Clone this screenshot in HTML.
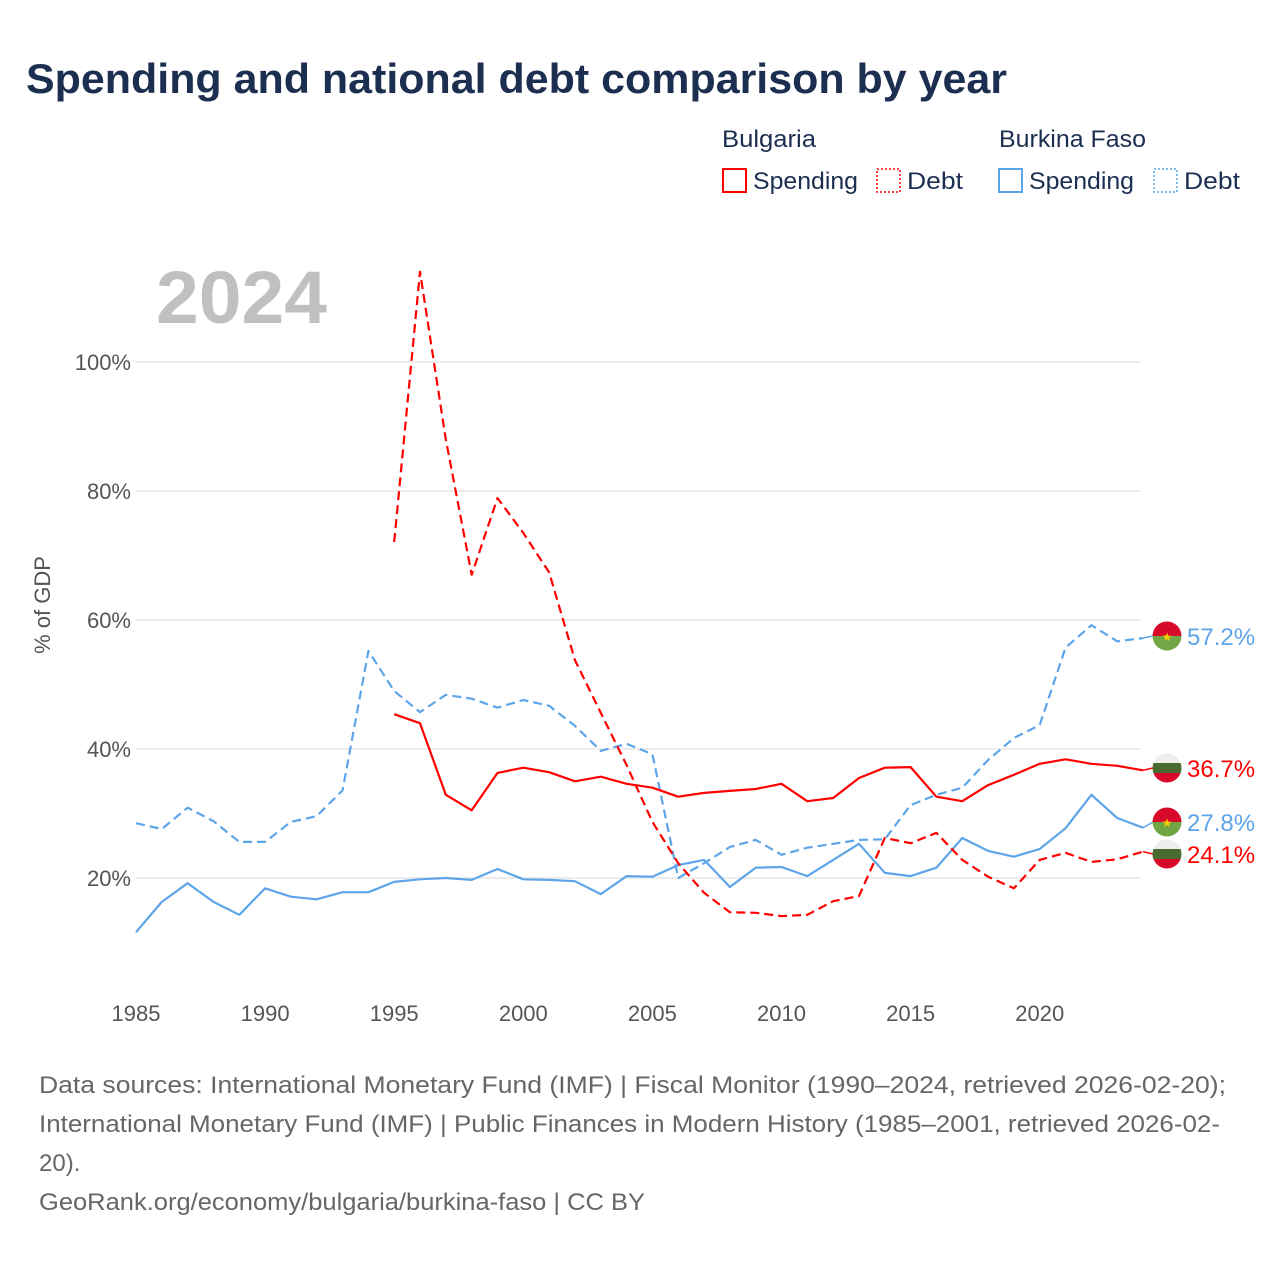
<!DOCTYPE html>
<html><head><meta charset="utf-8"><style>
body{margin:0;background:#fff;font-family:"Liberation Sans",sans-serif;}
#wrap{position:relative;width:1280px;height:1280px;overflow:hidden;}
</style></head><body>
<div id="wrap">
<svg id="chart" width="1280" height="1280" xmlns="http://www.w3.org/2000/svg">
<text x="26" y="93" font-size="42" font-weight="bold" fill="#1c2f50" textLength="981" lengthAdjust="spacingAndGlyphs">Spending and national debt comparison by year</text>
<g font-size="24" fill="#1c2f50">
<text x="722" y="147" textLength="94" lengthAdjust="spacingAndGlyphs">Bulgaria</text>
<text x="999" y="147" textLength="147" lengthAdjust="spacingAndGlyphs">Burkina Faso</text>
<g><rect x="723" y="169" width="23" height="23" fill="none" stroke="#f00" stroke-width="2"/><text x="753" y="189" textLength="105" lengthAdjust="spacingAndGlyphs">Spending</text></g>
<g><rect x="877" y="169" width="23" height="23" fill="none" stroke="#f00" stroke-width="1.5" stroke-dasharray="2,2"/><text x="907" y="189" textLength="56" lengthAdjust="spacingAndGlyphs">Debt</text></g>
<g><rect x="999" y="169" width="23" height="23" fill="none" stroke="#5da5e8" stroke-width="2"/><text x="1029" y="189" textLength="105" lengthAdjust="spacingAndGlyphs">Spending</text></g>
<g><rect x="1154" y="169" width="23" height="23" fill="none" stroke="#5da5e8" stroke-width="1.5" stroke-dasharray="2,2"/><text x="1184" y="189" textLength="56" lengthAdjust="spacingAndGlyphs">Debt</text></g>
</g>
<text x="156" y="323" font-size="74" font-weight="bold" fill="#c0c0c0" textLength="171" lengthAdjust="spacingAndGlyphs">2024</text>
<text transform="translate(50,605) rotate(-90)" text-anchor="middle" font-size="22" fill="#555">% of GDP</text>
<g id="grid"></g><g id="lines"></g><g id="ends"></g>
<g font-size="24" fill="#666">
<text x="39" y="1093" textLength="1187" lengthAdjust="spacingAndGlyphs">Data sources: International Monetary Fund (IMF) | Fiscal Monitor (1990–2024, retrieved 2026-02-20);</text>
<text x="39" y="1132" textLength="1181" lengthAdjust="spacingAndGlyphs">International Monetary Fund (IMF) | Public Finances in Modern History (1985–2001, retrieved 2026-02-</text>
<text x="39" y="1171">20).</text>
<text x="39" y="1210" textLength="606" lengthAdjust="spacingAndGlyphs">GeoRank.org/economy/bulgaria/burkina-faso | CC BY</text>
</g>
</svg>
</div>
<script>
const yTicks=[20,40,60,80,100];
const xTicks=[1985,1990,1995,2000,2005,2010,2015,2020];
const bfYears=[1985,1986,1987,1988,1989,1990,1991,1992,1993,1994,1995,1996,1997,1998,1999,2000,2001,2002,2003,2004,2005,2006,2007,2008,2009,2010,2011,2012,2013,2014,2015,2016,2017,2018,2019,2020,2021,2022,2023,2024];
const bfSpending=[11.6,16.3,19.2,16.3,14.3,18.4,17.1,16.7,17.8,17.8,19.4,19.8,20.0,19.7,21.4,19.8,19.7,19.5,17.5,20.3,20.2,22.0,22.8,18.6,21.6,21.7,20.3,22.8,25.3,20.8,20.3,21.6,26.2,24.2,23.3,24.5,27.7,32.9,29.3,27.8];
const bfDebt=[28.5,27.6,30.9,28.8,25.6,25.6,28.7,29.6,33.6,55.2,49.0,45.7,48.4,47.8,46.4,47.6,46.7,43.6,39.7,40.8,39.2,20.0,22.3,24.8,25.9,23.6,24.7,25.3,25.9,26.0,31.3,32.9,34.0,38.3,41.7,43.7,55.7,59.2,56.7,57.2];
const bgYears=[1995,1996,1997,1998,1999,2000,2001,2002,2003,2004,2005,2006,2007,2008,2009,2010,2011,2012,2013,2014,2015,2016,2017,2018,2019,2020,2021,2022,2023,2024];
const bgSpending=[45.4,44.0,32.9,30.5,36.3,37.1,36.4,35.0,35.7,34.6,34.0,32.6,33.2,33.5,33.8,34.6,31.9,32.4,35.5,37.1,37.2,32.6,31.9,34.4,36.0,37.7,38.4,37.7,37.4,36.7];
const bgDebt=[72.1,114.0,88.0,67.0,78.9,73.5,67.4,53.8,45.6,37.5,28.7,22.3,17.7,14.7,14.6,14.1,14.3,16.4,17.2,26.2,25.4,27.0,22.8,20.2,18.4,22.8,23.9,22.5,22.9,24.1];

const NS="http://www.w3.org/2000/svg";
const X=y=>136+(y-1985)*(1143-136)/39;
const Y=v=>1007-v*6.45;
function mk(tag,attrs,parent){const e=document.createElementNS(NS,tag);for(const k in attrs)e.setAttribute(k,attrs[k]);parent.appendChild(e);return e;}
const grid=document.getElementById('grid'),lines=document.getElementById('lines'),ends=document.getElementById('ends');
yTicks.forEach(t=>{
 const l=mk('line',{x1:136,x2:1141,y1:Y(t),y2:Y(t),stroke:'#e6e6e6','stroke-width':1.5},grid);
 
 
 const tx=mk('text',{x:131,y:Y(t)+8,'text-anchor':'end','font-size':22,fill:'#555'},grid);
 tx.textContent=t+'%';
 
 
});
xTicks.forEach(t=>{
 const tx=mk('text',{x:X(t),y:1021,'text-anchor':'middle','font-size':22,fill:'#555'},grid);
 tx.textContent=t;
 
 
});
function series(years,vals,color,dash,name){
 const d=years.map((y,i)=>(i?'L':'M')+X(y).toFixed(1)+','+Y(vals[i]).toFixed(1)).join('');
 const p=mk('path',{d:d,fill:'none',stroke:color,'stroke-width':2.2,'stroke-linejoin':'round'},lines);
 if(dash)p.setAttribute('stroke-dasharray','9,5');
 
 
}
series(bfYears,bfDebt,'#5da5e8',true,'line-burkina-debt');
series(bfYears,bfSpending,'#5da5e8',false,'line-burkina-spending');
series(bgYears,bgDebt,'#f00',true,'line-bulgaria-debt');
series(bgYears,bgSpending,'#f00',false,'line-bulgaria-spending');
function flag(cy,country,val,color,name){
 const g=mk('g',{},ends);
 
 
 const x0=X(2024),cx=1167;
 mk('line',{x1:x0,x2:cx-14,y1:Y(val),y2:cy,stroke:color,'stroke-width':1.5},g);
 const id='c'+Math.round(cy);
 const cp=mk('clipPath',{id:id},g);mk('circle',{cx:cx,cy:cy,r:14.5},cp);
 const f=mk('g',{'clip-path':'url(#'+id+')'},g);
 if(country==='bf'){
  mk('rect',{x:cx-15,y:cy-15,width:30,height:15,fill:'#d8082b'},f);
  mk('rect',{x:cx-15,y:cy,width:30,height:15,fill:'#72a544'},f);
  const s=mk('text',{x:cx,y:cy+5,'text-anchor':'middle','font-size':12,fill:'#f5d000'},f);s.textContent='★';
 }else{
  mk('rect',{x:cx-15,y:cy-15,width:30,height:10,fill:'#eee'},f);
  mk('rect',{x:cx-15,y:cy-5,width:30,height:10,fill:'#4a6b30'},f);
  mk('rect',{x:cx-15,y:cy+5,width:30,height:10,fill:'#d8082b'},f);
 }
 const t=mk('text',{x:1187,y:cy+9,'font-size':24,fill:color},g);t.textContent=val.toFixed(1)+'%';
}
flag(636,'bf',bfDebt[bfDebt.length-1],'#5da5e8','end-label-burkina-debt');
flag(768,'bg',bgSpending[bgSpending.length-1],'#f00','end-label-bulgaria-spending');
flag(822,'bf',bfSpending[bfSpending.length-1],'#5da5e8','end-label-burkina-spending');
flag(854,'bg',bgDebt[bgDebt.length-1],'#f00','end-label-bulgaria-debt');
</script>
</body></html>
